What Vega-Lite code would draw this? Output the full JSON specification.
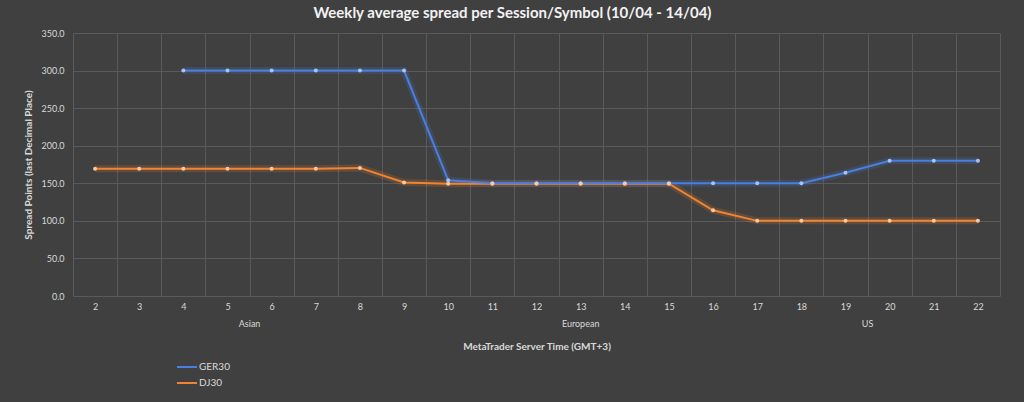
{
  "$schema": "https://vega.github.io/schema/vega-lite/v6.json",
  "width": 927,
  "height": 263,
  "autosize": {"type": "none"},
  "padding": {"left": 73, "top": 33, "right": 24, "bottom": 106},
  "background": "#404040",
  "title": {
    "text": "Weekly average spread per Session/Symbol (10/04 - 14/04)",
    "font": "Lato",
    "fontSize": 15,
    "fontWeight": "bold",
    "color": "#f2f2f2",
    "anchor": "middle",
    "frame": "group",
    "dx": -24,
    "offset": 8
  },
  "config": {
    "view": {"stroke": null},
    "font": "Lato"
  },
  "data": {
    "values": [
      {"hour": 2, "session": "Asian", "symbol": "DJ30", "spread": 169.5},
      {"hour": 3, "session": "Asian", "symbol": "DJ30", "spread": 169.5},
      {"hour": 4, "session": "Asian", "symbol": "GER30", "spread": 300},
      {"hour": 4, "session": "Asian", "symbol": "DJ30", "spread": 169.5},
      {"hour": 5, "session": "Asian", "symbol": "GER30", "spread": 300},
      {"hour": 5, "session": "Asian", "symbol": "DJ30", "spread": 169.5},
      {"hour": 6, "session": "Asian", "symbol": "GER30", "spread": 300},
      {"hour": 6, "session": "Asian", "symbol": "DJ30", "spread": 169.5},
      {"hour": 7, "session": "Asian", "symbol": "GER30", "spread": 300},
      {"hour": 7, "session": "Asian", "symbol": "DJ30", "spread": 169.5},
      {"hour": 8, "session": "Asian", "symbol": "GER30", "spread": 300},
      {"hour": 8, "session": "Asian", "symbol": "DJ30", "spread": 170.5},
      {"hour": 9, "session": "Asian", "symbol": "GER30", "spread": 300},
      {"hour": 9, "session": "Asian", "symbol": "DJ30", "spread": 151},
      {"hour": 10, "session": "European", "symbol": "GER30", "spread": 154},
      {"hour": 10, "session": "European", "symbol": "DJ30", "spread": 149.5},
      {"hour": 11, "session": "European", "symbol": "GER30", "spread": 150},
      {"hour": 11, "session": "European", "symbol": "DJ30", "spread": 149.5},
      {"hour": 12, "session": "European", "symbol": "GER30", "spread": 150},
      {"hour": 12, "session": "European", "symbol": "DJ30", "spread": 149.5},
      {"hour": 13, "session": "European", "symbol": "GER30", "spread": 150},
      {"hour": 13, "session": "European", "symbol": "DJ30", "spread": 149.5},
      {"hour": 14, "session": "European", "symbol": "GER30", "spread": 150},
      {"hour": 14, "session": "European", "symbol": "DJ30", "spread": 149.5},
      {"hour": 15, "session": "European", "symbol": "GER30", "spread": 150},
      {"hour": 15, "session": "European", "symbol": "DJ30", "spread": 149.5},
      {"hour": 16, "session": "European", "symbol": "GER30", "spread": 150},
      {"hour": 16, "session": "European", "symbol": "DJ30", "spread": 114},
      {"hour": 17, "session": "US", "symbol": "GER30", "spread": 150},
      {"hour": 17, "session": "US", "symbol": "DJ30", "spread": 100},
      {"hour": 18, "session": "US", "symbol": "GER30", "spread": 150},
      {"hour": 18, "session": "US", "symbol": "DJ30", "spread": 100},
      {"hour": 19, "session": "US", "symbol": "GER30", "spread": 164},
      {"hour": 19, "session": "US", "symbol": "DJ30", "spread": 100},
      {"hour": 20, "session": "US", "symbol": "GER30", "spread": 180},
      {"hour": 20, "session": "US", "symbol": "DJ30", "spread": 100},
      {"hour": 21, "session": "US", "symbol": "GER30", "spread": 180},
      {"hour": 21, "session": "US", "symbol": "DJ30", "spread": 100},
      {"hour": 22, "session": "US", "symbol": "GER30", "spread": 180},
      {"hour": 22, "session": "US", "symbol": "DJ30", "spread": 100}
    ]
  },
  "encoding": {
    "x": {
      "field": "hour",
      "type": "quantitative",
      "scale": {"domain": [1.5, 22.5], "nice": false, "zero": false},
      "axis": {
        "title": "MetaTrader Server Time (GMT+3)",
        "values": [1.5, 2, 2.5, 3, 3.5, 4, 4.5, 5, 5.5, 6, 6.5, 7, 7.5, 8, 8.5, 9, 9.5, 10, 10.5, 11, 11.5, 12, 12.5, 13, 13.5, 14, 14.5, 15, 15.5, 16, 16.5, 17, 17.5, 18, 18.5, 19, 19.5, 20, 20.5, 21, 21.5, 22, 22.5],
        "labelExpr": "datum.value % 1 == 0 ? format(datum.value, 'd') : ''",
        "grid": true,
        "gridColor": "#5a5a5a",
        "gridWidth": 1,
        "gridOpacity": {"condition": {"test": "datum.value % 1 == 0", "value": 0}, "value": 1},
        "ticks": false,
        "domain": false,
        "labelColor": "#d9d9d9",
        "labelFontSize": 9,
        "labelPadding": 6,
        "labelFlush": false,
        "labelOverlap": false,
        "titleColor": "#d9d9d9",
        "titleFontSize": 10,
        "titleFontWeight": "bold",
        "titlePadding": 30
      }
    },
    "y": {
      "field": "spread",
      "type": "quantitative",
      "scale": {"domain": [0, 350], "nice": false},
      "axis": {
        "title": "Spread Points  (last Decimal Place)",
        "values": [0, 50, 100, 150, 200, 250, 300, 350],
        "format": ".1f",
        "grid": true,
        "gridColor": "#5a5a5a",
        "ticks": false,
        "domain": false,
        "labelColor": "#d9d9d9",
        "labelFontSize": 9,
        "labelPadding": 9,
        "titleColor": "#d9d9d9",
        "titleFontSize": 10,
        "titleFontWeight": "bold",
        "titlePadding": 7
      }
    }
  },
  "layer": [
    {
      "mark": {"type": "line", "strokeWidth": 7, "opacity": 0.18},
      "encoding": {
        "color": {"field": "symbol", "type": "nominal", "scale": {"domain": ["GER30", "DJ30"], "range": ["#4a7fe0", "#f28430"]}, "legend": null},
        "detail": {"field": "symbol"}
      }
    },
    {
      "mark": {"type": "line", "strokeWidth": 2},
      "encoding": {
        "color": {
          "field": "symbol",
          "type": "nominal",
          "scale": {"domain": ["GER30", "DJ30"], "range": ["#4a7fe0", "#f28430"]},
          "legend": {
            "title": null,
            "orient": "none",
            "legendX": 103,
            "legendY": 323,
            "symbolType": "stroke",
            "symbolSize": 400,
            "symbolStrokeWidth": 2,
            "labelColor": "#d9d9d9",
            "labelFontSize": 10,
            "labelOffset": 1,
            "rowPadding": -3
          }
        }
      }
    },
    {
      "mark": {"type": "point", "filled": true, "size": 16, "opacity": 1},
      "encoding": {
        "color": {"field": "symbol", "type": "nominal", "scale": {"domain": ["GER30", "DJ30"], "range": ["#a9c2f0", "#f9c9a2"]}, "legend": null}
      }
    },
    {
      "transform": [{"filter": "datum.symbol == 'DJ30'"}],
      "mark": {"type": "text", "color": "#d9d9d9", "fontSize": 9, "baseline": "middle", "y": {"expr": "height"}, "dy": 28},
      "encoding": {
        "x": {"field": "hour", "aggregate": "mean", "type": "quantitative"},
        "y": null,
        "text": {"field": "session", "type": "nominal"}
      }
    }
  ],
  "resolve": {"scale": {"color": "independent"}}
}
